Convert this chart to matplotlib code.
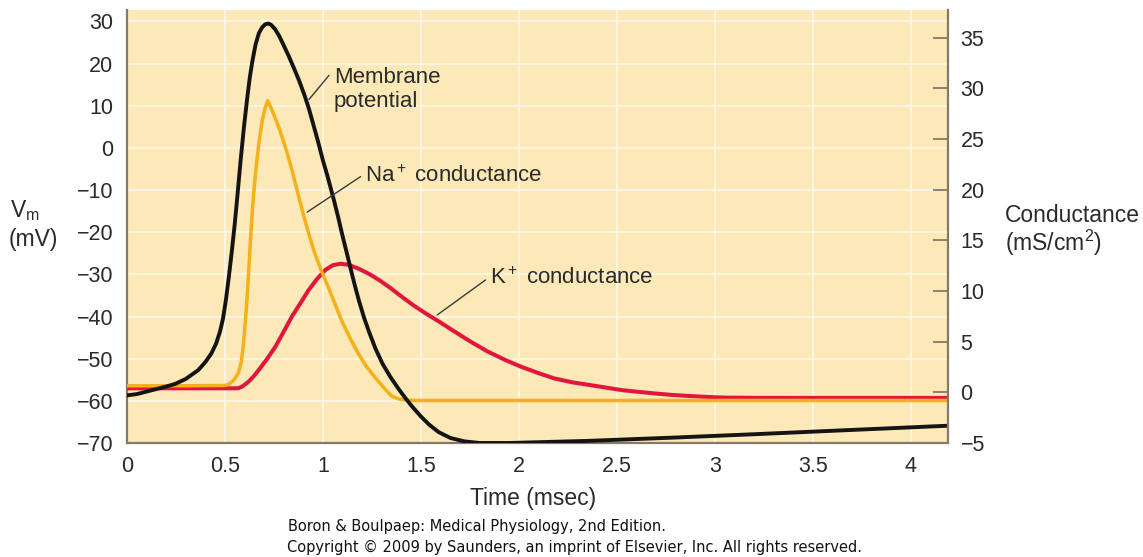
import matplotlib
matplotlib.use("Agg")
import matplotlib.pyplot as plt

# ---------------- data ----------------
# Membrane potential (mV, left axis)
vm_t = [0.00, 0.05, 0.10, 0.15, 0.20, 0.245, 0.30, 0.364, 0.40, 0.43, 0.455,
        0.475, 0.49, 0.505, 0.52, 0.535, 0.55, 0.563, 0.58, 0.597, 0.614,
        0.627, 0.64, 0.656, 0.673, 0.69, 0.705, 0.721, 0.735, 0.755, 0.776,
        0.80, 0.827, 0.853, 0.878, 0.905, 0.929, 0.95, 0.975, 1.00, 1.022,
        1.04, 1.056, 1.077, 1.098, 1.12, 1.141, 1.162, 1.184, 1.21, 1.235,
        1.268, 1.303, 1.345, 1.388, 1.42, 1.456, 1.50, 1.541, 1.59, 1.65,
        1.72, 1.80, 1.95, 2.35, 2.80, 3.21, 3.70, 4.19]
vm_v = [-58.7, -58.4, -57.8, -57.2, -56.6, -56.0, -54.8, -52.7, -50.8, -48.8, -46.4,
        -43.5, -40.5, -36.0, -30.5, -24.5, -18.0, -11.6, -2.9, 5.0, 12.0,
        16.8, 20.6, 24.5, 27.2, 28.6, 29.3, 29.5, 29.2, 28.2, 26.6,
        24.3, 21.6, 18.8, 16.0, 12.6, 9.2, 5.7, 1.5, -3.0, -6.5,
        -9.6, -12.4, -16.3, -20.5, -24.6, -28.6, -32.5, -36.3, -40.3, -43.6,
        -47.6, -51.1, -54.4, -57.3, -59.3, -61.4, -63.7, -65.6, -67.4, -68.8,
        -69.6, -70.0, -70.0, -69.5, -68.7, -67.9, -66.9, -65.9]

# Na+ conductance (mS/cm2, right axis)
na_t = [0.00, 0.30, 0.50, 0.52, 0.545, 0.568, 0.583, 0.593, 0.602, 0.611, 0.62,
        0.63, 0.64, 0.65, 0.66, 0.673, 0.69, 0.705, 0.718, 0.73, 0.75, 0.776,
        0.80, 0.827, 0.853, 0.878, 0.905, 0.93, 0.959, 0.99, 1.027, 1.06,
        1.095, 1.14, 1.18, 1.22, 1.265, 1.30, 1.33, 1.35, 1.38, 1.42, 1.48, 4.19]
na_g = [0.65, 0.65, 0.68, 0.80, 1.2, 1.9, 3.0, 4.5, 6.5, 8.8, 11.6,
        15.0, 18.0, 20.4, 22.4, 24.6, 26.8, 28.1, 28.8, 28.3, 27.4, 26.1,
        24.7, 23.0, 21.1, 19.2, 17.2, 15.5, 13.7, 12.1, 10.4, 8.8,
        7.1, 5.3, 3.85, 2.6, 1.5, 0.7, 0.05, -0.35, -0.62, -0.76, -0.80, -0.80]

# K+ conductance (mS/cm2, right axis)
k_t = [0.00, 0.30, 0.55, 0.57, 0.59, 0.62, 0.645, 0.672, 0.715, 0.757, 0.80,
       0.842, 0.885, 0.927, 0.97, 1.013, 1.05, 1.09, 1.13, 1.183, 1.235,
       1.286, 1.345, 1.405, 1.465, 1.524, 1.60, 1.667, 1.75, 1.84, 1.93,
       2.01, 2.10, 2.18, 2.27, 2.36, 2.45, 2.53, 2.62, 2.70, 2.78, 2.87,
       2.96, 3.05, 3.20, 3.50, 4.19]
k_g = [0.40, 0.40, 0.40, 0.42, 0.60, 1.05, 1.55, 2.2, 3.3, 4.5, 6.0,
       7.5, 8.8, 10.1, 11.2, 12.1, 12.55, 12.7, 12.6, 12.2, 11.7,
       11.1, 10.3, 9.4, 8.55, 7.8, 6.9, 6.06, 5.05, 4.04, 3.2,
       2.54, 1.9, 1.38, 1.0, 0.73, 0.45, 0.21, 0.03, -0.12, -0.25, -0.36,
       -0.45, -0.52, -0.54, -0.55, -0.55]

x_ticks = [0, 0.5, 1, 1.5, 2, 2.5, 3, 3.5, 4]
x_ticklabels = ["0", "0.5", "1", "1.5", "2", "2.5", "3", "3.5", "4"]
vm_ticks = [30, 20, 10, 0, -10, -20, -30, -40, -50, -60, -70]
g_ticks = [35, 30, 25, 20, 15, 10, 5, 0, -5]

# ---------------- style ----------------
plt.rcParams['font.family'] = ['Liberation Sans', 'DejaVu Sans']
plt.rcParams['mathtext.fontset'] = 'custom'
plt.rcParams['mathtext.rm'] = 'Liberation Sans'
plt.rcParams['mathtext.it'] = 'Liberation Sans:italic'
plt.rcParams['mathtext.bf'] = 'Liberation Sans:bold'

TXT = '#2a2a2a'
BG = '#fde8b7'
GRID = '#fff8ea'
SPINE = '#85796a'
C_VM = '#141414'
C_NA = '#f4b11a'
C_K = '#e2163c'
W, H = 1143, 557


def fmt(v):
    return ("\u2212" + str(-v)) if v < 0 else str(v)


fig = plt.figure(figsize=(W / 100, H / 100), dpi=100)
ax = fig.add_axes([127 / W, 1 - 443 / H, (948 - 127) / W, (443 - 10) / H])
ax.set_facecolor(BG)
ax.set_xlim(0, 4.19)
ax.set_ylim(-70, 32.7)

ax.set_xticks(x_ticks)
ax.set_xticklabels(x_ticklabels)
ax.set_yticks(vm_ticks)
ax.set_yticklabels([fmt(v) for v in vm_ticks])
ax.tick_params(axis='both', length=0, labelsize=15.5, colors=TXT)
ax.tick_params(axis='y', pad=10)
ax.tick_params(axis='x', pad=9)
ax.grid(True, color=GRID, linewidth=1.2)
ax.set_axisbelow(True)
for s in ['top', 'right']:
    ax.spines[s].set_visible(False)
for s in ['left', 'bottom']:
    ax.spines[s].set_color(SPINE)
    ax.spines[s].set_linewidth(1.6)

ax2 = ax.twinx()
ax2.set_ylim(-5, 37.75)
ax2.set_yticks(g_ticks)
ax2.set_yticklabels([fmt(v) for v in g_ticks])
ax2.tick_params(axis='y', direction='in', length=11, width=1.3, color=SPINE,
                labelsize=15.5, labelcolor=TXT, pad=9)
for s in ['top', 'left', 'bottom']:
    ax2.spines[s].set_visible(False)
ax2.spines['right'].set_color(SPINE)
ax2.spines['right'].set_linewidth(1.6)
ax.set_zorder(0)
ax2.set_zorder(1)
ax2.patch.set_visible(False)

# curves: conductances use the right-axis scale, but are drawn in the main axes
ax.plot(k_t, k_g, color=C_K, lw=2.9, transform=ax2.transData, zorder=3,
        solid_joinstyle='round')
ax.plot(na_t, na_g, color=C_NA, lw=2.5, transform=ax2.transData, zorder=4,
        solid_joinstyle='round')
ax.plot(vm_t, vm_v, color=C_VM, lw=2.8, zorder=5, solid_joinstyle='round')
ax.set_xlim(0, 4.19)
ax.set_ylim(-70, 32.7)

# annotations (leader lines)
lead = dict(arrowstyle='-', color='#3a3a3a', lw=1.0, shrinkA=0, shrinkB=0)
ax.annotate('', xy=(0.929, 11.5), xytext=(1.031, 17.2), arrowprops=lead)
ax.text(1.056, 13.8, 'Membrane\npotential', ha='left', va='center',
        fontsize=16, color=TXT, linespacing=1.15)
ax2.annotate('', xy=(0.92, 17.8), xytext=(1.192, 21.3), arrowprops=lead)
ax2.text(1.215, 21.3, 'Na$^+$ conductance', ha='left', va='center',
         fontsize=16, color=TXT)
ax2.annotate('', xy=(1.583, 7.64), xytext=(1.83, 11.1), arrowprops=lead)
ax2.text(1.853, 11.3, 'K$^+$ conductance', ha='left', va='center',
         fontsize=16, color=TXT)

# axis titles
fig.text(10 / W, 1 - 211 / H, 'V$_{\\mathrm{m}}$', ha='left', va='center',
         fontsize=16.5, color=TXT)
fig.text(9 / W, 1 - 239 / H, '(mV)', ha='left', va='center',
         fontsize=16.5, color=TXT)
fig.text(1005 / W, 1 - 215 / H, 'Conductance', ha='left', va='center',
         fontsize=16.5, color=TXT)
fig.text(1005 / W, 1 - 243 / H, '(mS/cm$^2$)', ha='left', va='center',
         fontsize=16.5, color=TXT)
fig.text(533 / W, 1 - 498 / H, 'Time (msec)', ha='center', va='center',
         fontsize=16.5, color=TXT)

fig.text(288 / W, 1 - 527 / H, 'Boron & Boulpaep: Medical Physiology, 2nd Edition.',
         ha='left', va='center', fontsize=10.5, color='#111111', family='DejaVu Sans')
fig.text(287 / W, 1 - 547 / H,
         'Copyright \u00a9 2009 by Saunders, an imprint of Elsevier, Inc. All rights reserved.',
         ha='left', va='center', fontsize=10.5, color='#111111', family='DejaVu Sans')

fig.savefig('out.png', dpi=100, facecolor='white')
